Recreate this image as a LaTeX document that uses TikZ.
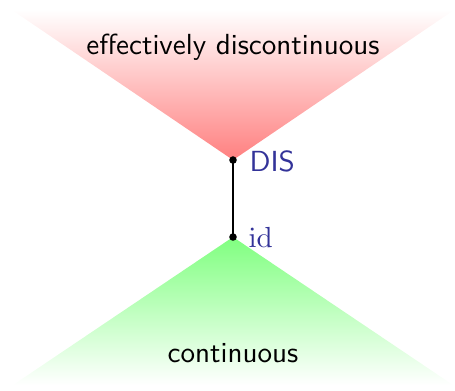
\documentclass[tikz,border=0pt]{standalone}
\definecolor{labblue}{RGB}{51,51,153}
\begin{document}
\begin{tikzpicture}[x=0.344pt,y=-0.344pt,
  dot/.style={circle,fill=black,inner sep=0pt,minimum size=2.6pt},
  lbl/.style={text=labblue,anchor=west,inner sep=0pt},
  region/.style={font=\sffamily,inner sep=0pt}]
\useasboundingbox (0,0) rectangle (455,390);
\shade[top color=white,bottom color=red!50] (12,10) -- (454,10) -- (233,160) -- cycle;
\shade[top color=green!50,bottom color=white] (233,237) -- (453,385) -- (13,385) -- cycle;
\node[region] (effdis) at (233,47) {effectively discontinuous};
\node[region] (cont) at (233,353) {continuous};
\node[dot] (dis) at (233,160) {};
\node[dot] (id) at (233,237) {};
\draw[line width=0.7pt] (dis.center) -- (id.center);
\node[lbl] (dislbl) at (249,161) {\sffamily DIS};
\node[lbl] (idlbl) at (248,237) {$\mathrm{id}$};
\end{tikzpicture}
\end{document}
